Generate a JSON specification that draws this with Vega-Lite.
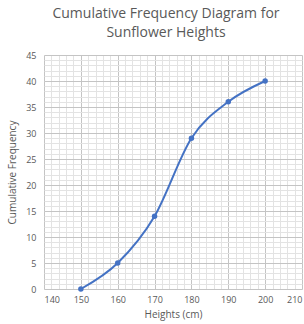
{
  "$schema": "https://vega.github.io/schema/vega-lite/v6.json",
  "autosize": "none",
  "width": 258,
  "height": 234,
  "padding": {"left": 44, "top": 55, "right": 2, "bottom": 35},
  "background": "white",
  "title": {
    "text": ["Cumulative Frequency Diagram for", "Sunflower Heights"],
    "font": "Open Sans",
    "fontSize": 14,
    "fontWeight": "normal",
    "color": "#595959",
    "anchor": "middle",
    "dx": -7,
    "offset": 11,
    "lineHeight": 19
  },
  "config": {
    "view": {"stroke": null},
    "axis": {"labelFont": "Open Sans", "titleFont": "Open Sans", "labelColor": "#595959", "titleColor": "#595959", "labelFontSize": 9, "titleFontSize": 10, "titleFontWeight": "normal"}
  },
  "data": {"values": [
    {"height": 150, "cf": 0},
    {"height": 160, "cf": 5},
    {"height": 170, "cf": 14},
    {"height": 180, "cf": 29},
    {"height": 190, "cf": 36},
    {"height": 200, "cf": 40}
  ]},
  "layer": [
    {
      "mark": {"type": "line", "interpolate": "cardinal", "tension": 0, "color": "#4472C4", "strokeWidth": 2},
      "encoding": {
        "x": {"field": "height", "type": "quantitative", "scale": {"domain": [140, 210], "nice": false, "zero": false},
          "axis": {"orient": "bottom", "values": [140,142,144,146,148,150,152,154,156,158,160,162,164,166,168,170,172,174,176,178,180,182,184,186,188,190,192,194,196,198,200,202,204,206,208,210], "grid": true, "gridColor": "#e3e3e3", "gridWidth": 1, "labels": false, "ticks": false, "domain": false, "title": null}},
        "y": {"field": "cf", "type": "quantitative", "scale": {"domain": [0, 45], "nice": false},
          "axis": {"orient": "left", "values": [0,1,2,3,4,5,6,7,8,9,10,11,12,13,14,15,16,17,18,19,20,21,22,23,24,25,26,27,28,29,30,31,32,33,34,35,36,37,38,39,40,41,42,43,44,45], "grid": true, "gridColor": "#e3e3e3", "gridWidth": 1, "labels": false, "ticks": false, "domain": false, "title": null}}
      }
    },
    {
      "mark": {"type": "point", "filled": true, "color": "#4472C4", "size": 30, "opacity": 1},
      "encoding": {
        "x": {"field": "height", "type": "quantitative",
          "axis": {"orient": "bottom", "values": [140,150,160,170,180,190,200,210], "grid": true, "gridColor": "#c4c4c4", "gridWidth": 1, "ticks": false, "domain": false, "labelPadding": 6, "title": "Heights (cm)", "titlePadding": 5}},
        "y": {"field": "cf", "type": "quantitative",
          "axis": {"orient": "left", "values": [0,5,10,15,20,25,30,35,40,45], "grid": true, "gridColor": "#c4c4c4", "gridWidth": 1, "ticks": false, "domain": false, "labelPadding": 8, "title": "Cumulative Frequency", "titlePadding": 8}}
      }
    }
  ],
  "resolve": {"axis": {"x": "independent", "y": "independent"}}
}
